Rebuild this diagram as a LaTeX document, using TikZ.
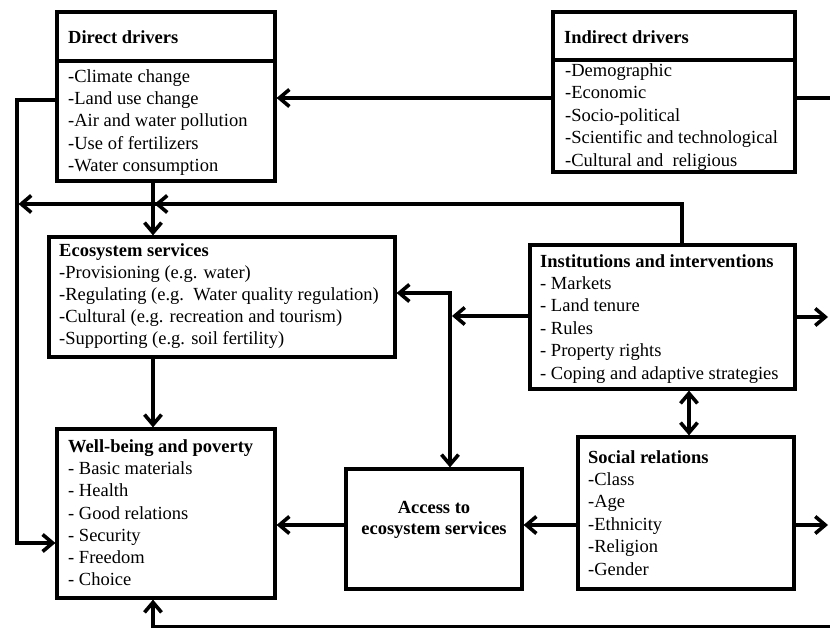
\documentclass[tikz,border=0pt]{standalone}
\usepackage{fontspec}
\setmainfont{Liberation Serif}
\usetikzlibrary{arrows.meta}
\begin{document}
\begin{tikzpicture}[x=1pt,y=-1pt,
  box/.style={draw, line width=3.2pt, fill=white, inner sep=0pt, rectangle},
  txt/.style={inner sep=0pt, anchor=north west, align=left, font=\fontsize{18.5}{22.4}\selectfont},
  ttl/.style={inner sep=0pt, anchor=north west, align=left, font=\fontsize{18.5}{22.4}\selectfont\bfseries},
  conn/.style={line width=3.2pt},
  tip/.style={},
  arr/.style={line width=3.2pt, -{Straight Barb[length=10pt,width=17pt,line width=3.6pt]}},
  darr/.style={line width=3.2pt, {Straight Barb[length=10pt,width=17pt,line width=3.6pt]}-{Straight Barb[length=10pt,width=17pt,line width=3.6pt]}}]
\useasboundingbox[fill=white] (0,0) rectangle (830,628);

% boxes
\node[box, minimum width=218pt, minimum height=169pt] (dd) at (166,96.5) {};
\node[box, minimum width=242pt, minimum height=160pt] (id) at (674,92) {};
\node[box, minimum width=346pt, minimum height=120pt] (es) at (222,297) {};
\node[box, minimum width=265pt, minimum height=144pt] (inst) at (662.5,317) {};
\node[box, minimum width=218pt, minimum height=169pt] (wb) at (166,513.5) {};
\node[box, minimum width=176pt, minimum height=120pt] (acc) at (434,529) {};
\node[box, minimum width=216pt, minimum height=152pt] (sr) at (686,513) {};

% title dividers
\coordinate (ddS) at (0,61);
\coordinate (idS) at (0,60);
\draw[conn] (dd.west |- ddS) -- (dd.east |- ddS);
\draw[conn] (id.west |- idS) -- (id.east |- idS);

% texts
\node[ttl] (ddt) at (68,27.3) {\strut Direct drivers};
\node[txt, font=\fontsize{18.5}{22.3}\selectfont] (ddl) at (68,66.3) {\strut -Climate change\\-Land use change\\-Air and water pollution\\-Use of fertilizers\\-Water consumption};
\node[ttl] (idt) at (564,27.3) {\strut Indirect drivers};
\node[txt, font=\fontsize{18.5}{22.5}\selectfont] (idl) at (565,60.3) {\strut -Demographic\\-Economic\\-Socio-political\\-Scientific and technological\\-Cultural and\ \ religious};
\node[txt, font=\fontsize{18.5}{22}\selectfont] (esl) at (59,241.3) {\strut\textbf{Ecosystem services}\\-Provisioning (e.g. water)\\-Regulating (e.g.\ \ Water quality regulation)\\-Cultural (e.g. recreation and tourism)\\-Supporting (e.g. soil fertility)};
\node[txt] (instl) at (540,251.3) {\strut\textbf{Institutions and interventions}\\- Markets\\- Land tenure\\- Rules\\- Property rights\\- Coping and adaptive strategies};
\node[txt, font=\fontsize{18.5}{22.3}\selectfont] (wbl) at (68,436.3) {\strut\textbf{Well-being and poverty}\\- Basic materials\\- Health\\- Good relations\\- Security\\- Freedom\\- Choice};
\node[txt] (srl) at (588,447.3) {\strut\textbf{Social relations}\\-Class\\-Age\\-Ethnicity\\-Religion\\-Gender};
\node[inner sep=0pt, anchor=north, align=center, font=\fontsize{18.5}{21}\selectfont\bfseries] (accl) at (434,498.3) {\strut Access to\\ecosystem services};

% connectors
\coordinate (rA) at (830,98);
\draw[conn] (rA) -- (id.east |- rA);
\draw[arr] (id.west |- rA) -- (dd.east |- rA);

\coordinate (lT) at (17,100);
\coordinate (lB) at (17,543);
\draw[arr] (dd.west |- lT) -- (lT) -- (lB) -- (wb.west |- lB);

\coordinate (dx) at (153,0);
\draw[arr] (dd.south -| dx) -- (es.north -| dx);

\coordinate (tY) at (682,204);
\coordinate (tL) at (18.5,204);
\coordinate (tM) at (154.5,204);
\draw[arr] (inst.north -| tY) -- (tY) -- (tL);
\draw[arr] (tY) -- (tM);

\draw[arr] (es.south -| dx) -- (wb.north -| dx);

\coordinate (iL) at (452,316);
\draw[arr] (inst.west |- iL) -- (iL);

\coordinate (vX) at (450,293);
\draw[darr] (es.east |- vX) -- (vX) -- (acc.north -| vX);

\coordinate (mY) at (0,525);
\draw[arr] (sr.west |- mY) -- (acc.east |- mY);
\draw[arr] (acc.west |- mY) -- (wb.east |- mY);

\coordinate (rI) at (828,317);
\draw[arr] (inst.east |- rI) -- (rI);
\coordinate (rS) at (828,525);
\draw[arr] (sr.east |- rS) -- (rS);

\coordinate (dX) at (689,0);
\draw[darr] (inst.south -| dX) -- (sr.north -| dX);

\coordinate (bR) at (830,627);
\draw[arr] (bR) -- (dx |- bR) -- (wb.south -| dx);
\end{tikzpicture}
\end{document}
